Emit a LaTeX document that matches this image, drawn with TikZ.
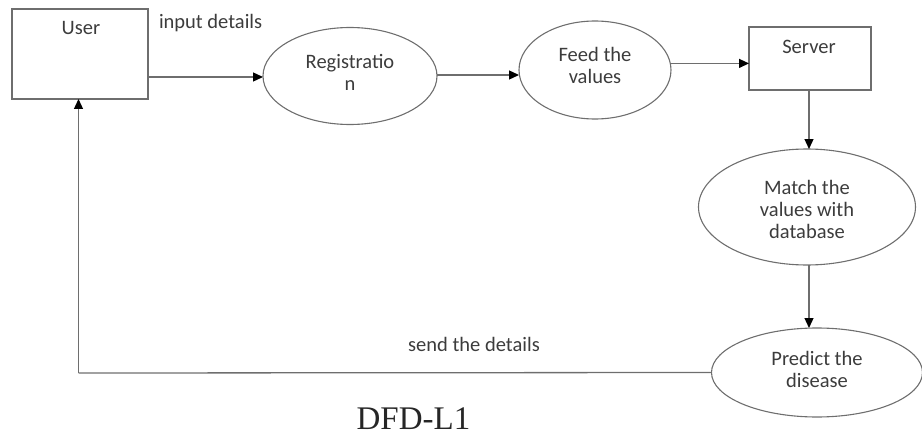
\documentclass[tikz,border=0pt]{standalone}
\usepackage{fontspec}
\setmainfont{Carlito}
\newfontfamily\captionserif{Liberation Serif}
\usetikzlibrary{arrows.meta,shapes.geometric}
\definecolor{edge}{RGB}{110,110,110}
\definecolor{ink}{RGB}{60,60,60}
\begin{document}
\begin{tikzpicture}[x=1pt,y=-1pt,
  every node/.style={inner sep=0pt, outer sep=0pt},
  entity/.style={draw=edge, line width=1.3pt, rectangle},
  proc/.style={draw=edge, line width=1.1pt, ellipse},
  lbl/.style={text=ink, font=\fontsize{20.5}{22}\selectfont, align=center},
  flow/.style={draw=edge, line width=1.3pt, -{Triangle[length=10pt,width=9pt,color=black]}},
  link/.style={draw=edge, line width=1.3pt}]
\useasboundingbox (0,0) rectangle (922,436);

% external entities and data stores
\node[entity, minimum width=136pt, minimum height=90pt] (user) at (80,54) {};
\node[lbl] (usertxt) at (81,28) {User};
\node[entity, minimum width=122pt, minimum height=63pt] (server) at (810,58.5) {};
\node[lbl] (servertxt) at (809,47) {Server};

% processes
\node[proc, minimum width=174pt, minimum height=97pt] (reg) at (350,76) {};
\node[lbl] (regtxt) at (350,72) {Registratio\\n};
\node[proc, minimum width=152pt, minimum height=98pt] (feed) at (595,70) {};
\node[lbl] (feedtxt) at (595,65) {Feed the\\values};
\node[proc, minimum width=217pt, minimum height=116pt] (match) at (807,207) {};
\node[lbl] (matchtxt) at (807,209) {Match the\\values with\\database};
\node[proc, minimum width=211pt, minimum height=89pt] (pred) at (817,372.5) {};
\node[lbl] (predtxt) at (817,369) {Predict the\\disease};

% flow labels
\node[lbl, anchor=west] (inlbl) at (159,23) {input details};
\node[lbl] (sendlbl) at (474,344) {send the details};
\node[font=\captionserif\fontsize{33}{36}\selectfont, text=black!85] (title) at (413.5,419) {DFD-L1};

% data flows
\draw[flow] (user.east |- 0,77) -- (reg.west |- 0,77);
\draw[flow] (reg.east |- 0,75) -- (feed.west |- 0,75);
\draw[flow] (feed.5) -- (feed.5 -| server.west);
\draw[flow] (server.south -| 809,0) -- (match.north -| 809,0);
\draw[flow] (match.south -| 809,0) -- (pred.north -| 809,0);
\coordinate (corner) at (78.5,373);
\draw[link] (pred.west) -- (corner);
\draw[flow] (corner) -- (corner |- user.south);
\end{tikzpicture}
\end{document}
